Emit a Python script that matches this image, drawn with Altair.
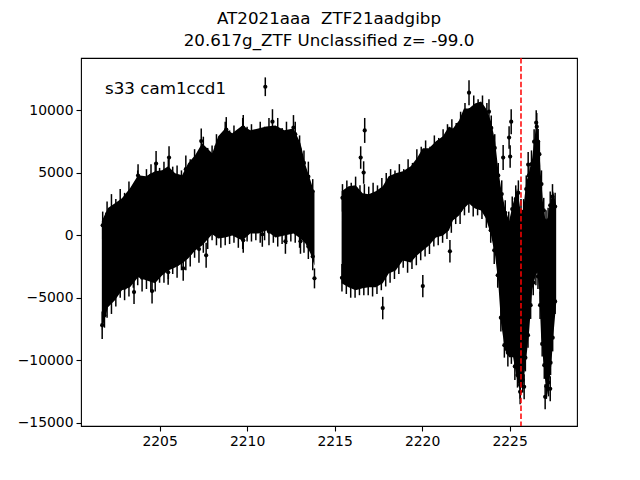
import altair as alt
import pandas as pd

title_lines = ["AT2021aaa\u00a0 ZTF21aadgibp", "20.617g_ZTF Unclassified z= -99.0"]
label = "s33 cam1ccd1"
x_ticks = [2205, 2210, 2215, 2220, 2225]
y_ticks = [-15000, -10000, -5000, 0, 5000, 10000]
vline_t = [2225.65]

# outline of the dense band of points (top / bottom of the error bars)
env1_t = [2201.70, 2202.05, 2202.45, 2202.85, 2203.31, 2203.77, 2204.22, 2204.74, 2205.14, 2205.49,
          2205.89, 2206.29, 2206.63, 2207.03, 2207.43, 2208.01, 2208.35, 2208.75, 2209.15, 2209.73,
          2210.18, 2210.64, 2211.10, 2211.62, 2212.13, 2212.65, 2213.05, 2213.34, 2213.62, 2213.85]
env1_hi = [1840, 2880, 3270, 3670, 4470, 5510, 5430, 5830, 5910, 6230,
           5670, 5510, 6470, 7110, 8070, 7270, 8630, 9260, 8870, 9500,
           9110, 9260, 9420, 9500, 9110, 9260, 8070, 6310, 5110, 4070]
env1_lo = [-8310, -6470, -5910, -5110, -4870, -4070, -4310, -4550, -3910, -3510,
           -3270, -2960, -2560, -1920, -1520, -620, -960, -880, -720, -1120,
           -560, -560, -320, -880, -720, -560, -960, -1360, -2160, -3110]

env2_t = [2215.40, 2215.80, 2216.20, 2216.60, 2216.95, 2217.35, 2217.75, 2218.09, 2218.49, 2218.90,
          2219.35, 2219.70, 2220.04, 2220.39, 2220.79, 2221.19, 2221.53, 2221.76, 2222.11, 2222.39,
          2222.68, 2223.02, 2223.37, 2223.65, 2223.94, 2224.17, 2224.34, 2224.51, 2224.74, 2224.97,
          2225.20, 2225.43, 2225.60, 2225.77, 2225.94, 2226.12, 2226.29, 2226.46, 2226.57, 2226.69,
          2226.80, 2226.92, 2227.03, 2227.15, 2227.26, 2227.38, 2227.49, 2227.66]
env2_hi = [4230, 4630, 4710, 4070, 3990, 4230, 4630, 5430, 5670, 5830,
           6230, 6870, 7670, 7670, 8230, 8630, 9420, 9260, 9900, 10860,
           10860, 11260, 11420, 10860, 9820, 8230, 6070, 4470, 2880, 1840,
           3270, 4470, 2880, 2640, 4870, 5830, 6870, 8870, 9820, 7670,
           5270, 3110, 2080, 1840, 2880, 3670, 4230, 3110]
env2_lo = [-4550, -4870, -5110, -4950, -4870, -4870, -4550, -3750, -3510, -2720,
           -2880, -2320, -1920, -1520, -880, -720, -320, 480, 880, 1440,
           1840, 1440, 1280, 640, -720, -2320, -4310, -7750, -9900, -10460,
           -10460, -12300, -13100, -12700, -10700, -8310, -5110, -4070, -3510, -5110,
           -8870, -10700, -12300, -13500, -12540, -11100, -8870, -6150]

# points along the top edge, segment 1
top1_t = [2201.75, 2202.00, 2202.25, 2202.50, 2202.75, 2203.00, 2203.25, 2203.50, 2203.75, 2204.00,
          2204.25, 2204.50, 2204.75, 2205.00, 2205.25, 2205.50, 2205.75, 2206.00, 2206.25, 2206.50,
          2206.75, 2207.00, 2207.25, 2207.50, 2207.75, 2208.00, 2208.25, 2208.50, 2208.75, 2209.00,
          2209.25, 2209.50, 2209.75, 2210.00, 2210.25, 2210.50, 2210.75, 2211.00, 2211.25, 2211.50,
          2211.75, 2212.00, 2212.25, 2212.50, 2212.75, 2213.00, 2213.25, 2213.50, 2213.75]
top1_f = [800, 1700, 2100, 1900, 2600, 2200, 3300, 2900, 4200, 3500,
          4300, 3800, 4700, 4200, 4800, 5100, 4300, 4500, 4200, 5300,
          4900, 5900, 5400, 6900, 5800, 6100, 7100, 6700, 8100, 7200,
          7700, 7400, 8300, 7500, 7900, 7300, 8100, 7600, 8200, 7400,
          8300, 7600, 7900, 7200, 8100, 6900, 5800, 4700, 3500]
top1_e = [1100, 1000, 1200, 1000, 1100, 1200, 1000, 1100, 1000, 1200,
          1000, 1100, 1000, 1200, 1100, 1000, 1200, 1100, 1000, 1100,
          1200, 1000, 1100, 1000, 1200, 1100, 1000, 1100, 1000, 1200,
          1100, 1000, 1100, 1200, 1000, 1100, 1000, 1100, 1200, 1000,
          1100, 1000, 1200, 1100, 1000, 1100, 1000, 1200, 1000]

# points along the bottom edge, segment 1
bot1_t = [2201.72, 2201.85, 2202.00, 2202.25, 2202.50, 2202.75, 2203.00, 2203.25, 2203.50, 2203.75,
          2204.00, 2204.25, 2204.50, 2204.75, 2205.00, 2205.25, 2205.50, 2205.75, 2206.00, 2206.25,
          2206.50, 2206.75, 2207.00, 2207.25, 2207.50, 2207.75, 2208.00, 2208.25, 2208.50, 2208.75,
          2209.00, 2209.25, 2209.50, 2209.75, 2210.00, 2210.25, 2210.50, 2210.75, 2211.00, 2211.25,
          2211.50, 2211.75, 2212.00, 2212.25, 2212.50, 2212.75, 2213.00, 2213.25, 2213.50, 2213.75]
bot1_f = [-7200, -6400, -5500, -5100, -4700, -3900, -4200, -3700, -3100, -3000,
          -3400, -3100, -3500, -3400, -2800, -2700, -2300, -2100, -2300, -1800,
          -1600, -1400, -800, -1100, -400, 100, 700, 200, 100, 400,
          300, 500, 0, 100, 600, 500, 700, 400, 800, 300,
          400, 200, 500, 300, 600, 400, 100, -200, -900, -1700]
bot1_e = [1100, 1000, 1100, 1200, 1000, 1100, 1000, 1200, 1100, 1000,
          1100, 1200, 1000, 1100, 1000, 1100, 1200, 1000, 1100, 1000,
          1200, 1100, 1000, 1100, 1000, 1200, 1100, 1000, 1100, 1200,
          1000, 1100, 1000, 1200, 1100, 1000, 1100, 1000, 1200, 1100,
          1000, 1100, 1200, 1000, 1100, 1000, 1100, 1200, 1000, 1100]

# points along the top edge, segment 2
top2_t = [2215.45, 2215.70, 2215.95, 2216.20, 2216.45, 2216.70, 2216.95, 2217.20, 2217.45, 2217.70,
          2217.95, 2218.20, 2218.45, 2218.70, 2218.95, 2219.20, 2219.45, 2219.70, 2219.95, 2220.20,
          2220.45, 2220.70, 2220.95, 2221.20, 2221.45, 2221.70, 2221.95, 2222.20, 2222.45, 2222.70,
          2222.95, 2223.20, 2223.45, 2223.70, 2223.95, 2224.15, 2224.35, 2224.55, 2224.75, 2224.95,
          2225.15, 2225.35, 2225.50, 2225.65, 2225.80, 2225.95, 2226.10, 2226.25, 2226.40, 2226.55,
          2226.70, 2226.82, 2226.95, 2227.08, 2227.20, 2227.32, 2227.45, 2227.60]
top2_f = [3000, 3400, 3100, 3700, 2900, 3100, 2700, 3200, 2900, 3600,
          3900, 4300, 4000, 4600, 4300, 5000, 4800, 5800, 5900, 6600,
          6000, 7000, 6700, 7500, 7700, 8300, 7900, 8900, 9500, 9200,
          10100, 9700, 10200, 9500, 8600, 7000, 4800, 3300, 1800, 800,
          2100, 2900, 3400, 1800, 1900, 3700, 4800, 5700, 7500, 8700,
          6500, 4100, 2000, 900, 1200, 2400, 3100, 2300]
top2_e = [1100, 1000, 1100, 1000, 1100, 1000, 1200, 1000, 1100, 1000,
          1100, 1000, 1200, 1100, 1000, 1100, 1000, 1100, 1200, 1000,
          1100, 1000, 1100, 1000, 1200, 1000, 1100, 1000, 1100, 1000,
          1100, 1200, 1000, 1100, 1000, 1100, 1000, 1100, 1000, 1100,
          1000, 1100, 1000, 1100, 1000, 1100, 1000, 1100, 1000, 1100,
          1000, 1100, 1000, 1100, 1000, 1100, 1000, 1100]

# points along the bottom edge, segment 2
bot2_t = [2215.42, 2215.67, 2215.92, 2216.17, 2216.42, 2216.67, 2216.92, 2217.17, 2217.42, 2217.67,
          2217.92, 2218.17, 2218.42, 2218.67, 2218.92, 2219.17, 2219.42, 2219.67, 2219.92, 2220.17,
          2220.42, 2220.67, 2220.92, 2221.17, 2221.42, 2221.67, 2221.92, 2222.17, 2222.42, 2222.67,
          2222.92, 2223.17, 2223.42, 2223.67, 2223.92, 2224.12, 2224.32, 2224.50, 2224.70, 2224.90,
          2225.10, 2225.30, 2225.45, 2225.60, 2225.75, 2225.90, 2226.05, 2226.20, 2226.35, 2226.50,
          2226.62, 2226.74, 2226.86, 2226.98, 2227.10, 2227.22, 2227.34, 2227.46, 2227.60]
bot2_f = [-3400, -3700, -3900, -4000, -3600, -3800, -3700, -3900, -3600, -3400,
          -3000, -2600, -2500, -2000, -1600, -1900, -1700, -1200, -900, -700,
          -400, 100, 300, 400, 800, 1400, 1900, 2000, 2600, 2900,
          2500, 2700, 2300, 1700, 400, -1200, -3200, -6600, -8800, -9400,
          -9300, -10500, -11200, -12000, -11600, -9800, -8000, -5600, -3800, -2900,
          -3300, -5600, -8700, -10400, -12100, -11800, -10200, -8200, -5300]
bot2_e = [1100, 1000, 1100, 1000, 1200, 1000, 1100, 1000, 1100, 1000,
          1100, 1200, 1000, 1100, 1000, 1100, 1000, 1200, 1100, 1000,
          1100, 1000, 1100, 1000, 1100, 1200, 1000, 1100, 1000, 1100,
          1000, 1100, 1000, 1100, 1000, 1100, 1000, 1100, 1000, 1100,
          1000, 1100, 1000, 1100, 1000, 1100, 1000, 1100, 1000, 1100,
          1000, 1100, 1000, 1100, 1000, 1100, 1000, 1100, 1000]

# isolated points that stand out of the band
out_t = [2211.04, 2203.54, 2203.77, 2204.51, 2204.80, 2205.54, 2207.38, 2208.81, 2209.78, 2211.45,
         2212.65, 2204.57, 2205.49, 2206.35, 2207.66, 2209.78, 2210.87, 2212.19, 2213.05, 2213.85,
         2216.49, 2216.66, 2216.72, 2217.75, 2220.04, 2221.59, 2222.68, 2223.82, 2224.63, 2224.97,
         2225.03, 2225.09, 2226.06, 2226.52, 2226.63, 2225.60, 2225.83, 2227.03, 2227.32]
out_f = [11900, -4550, 4790, 4790, 5750, 6230, 7550, 8470, 8630, 9100,
         8630, -4470, -2960, -2640, -1600, -400, 80, -480, -480, -3450,
         6230, 5030, 8400, -5830, -4070, -1280, 11420, 9900, 6230, 7830,
         6310, 9100, 5670, 9020, 7510, -12540, -12140, -12940, -12300]
out_e = [750, 950, 900, 900, 1000, 900, 1000, 1000, 1000, 1000,
         1000, 1000, 1000, 1000, 1000, 1000, 1000, 1000, 1000, 800,
         900, 900, 1000, 900, 900, 900, 1000, 1000, 1000, 900,
         900, 1000, 1000, 1000, 1000, 1000, 1000, 1000, 1000]

env = pd.concat([
    pd.DataFrame({'t': env1_t, 'hi': env1_hi, 'lo': env1_lo, 'seg': 1}),
    pd.DataFrame({'t': env2_t, 'hi': env2_hi, 'lo': env2_lo, 'seg': 2}),
])
pts = pd.concat([
    pd.DataFrame({'t': t, 'f': f, 'e': e})
    for t, f, e in [(top1_t, top1_f, top1_e), (bot1_t, bot1_f, bot1_e),
                    (top2_t, top2_f, top2_e), (bot2_t, bot2_f, bot2_e),
                    (out_t, out_f, out_e)]
])

x_enc = alt.X('t:Q', title=None,
              scale=alt.Scale(domain=[2200.51, 2228.85], nice=False, zero=False),
              axis=alt.Axis(values=x_ticks, format='d'))
y_scale = alt.Scale(domain=[-15276, 14203], nice=False, zero=False)
y_axis = alt.Axis(values=y_ticks, format='d')

band = alt.Chart(env).transform_calculate(
    top='datum.hi - 700', bot='datum.lo + 700'
).mark_area(color='black', opacity=1).encode(
    x=x_enc,
    y=alt.Y('bot:Q', title=None, scale=y_scale, axis=y_axis),
    y2='top:Q',
    detail='seg:N')

bars = alt.Chart(pts).transform_calculate(
    y0='datum.f - datum.e', y1='datum.f + datum.e'
).mark_rule(color='black', strokeWidth=1.5).encode(
    x=x_enc,
    y=alt.Y('y0:Q', scale=y_scale),
    y2='y1:Q')

dots = alt.Chart(pts).mark_circle(color='black', size=18, opacity=1).encode(
    x=x_enc,
    y=alt.Y('f:Q', scale=y_scale))

vline = alt.Chart(pd.DataFrame({'t': vline_t})).mark_rule(
    color='red', strokeWidth=1.5, strokeDash=[5.5, 2.4]).encode(x=x_enc)

note = alt.Chart(pd.DataFrame({'label': [label]})).mark_text(
    align='left', baseline='middle', font='DejaVu Sans', fontSize=16.7, color='black'
).encode(x=alt.value(24), y=alt.value(31), text='label:N')

chart = (band + bars + dots + vline + note).properties(
    width=496, height=368,
    title=alt.TitleParams(title_lines, font='DejaVu Sans', fontSize=16.7,
                          fontWeight='normal', color='black', lineHeight=21.7,
                          anchor='middle', offset=8),
    autosize=alt.AutoSizeParams(type='none'),
    padding={'left': 73, 'top': 50, 'right': 50, 'bottom': 45},
).configure_axis(
    grid=False, domain=False, tickColor='black', tickSize=5, tickWidth=1.1,
    labelFont='DejaVu Sans', labelFontSize=13.9, labelColor='black', labelPadding=3
).configure_view(stroke='black', strokeWidth=1.1)

chart.save("out.html", embed_options={"renderer": "svg", "actions": False})
